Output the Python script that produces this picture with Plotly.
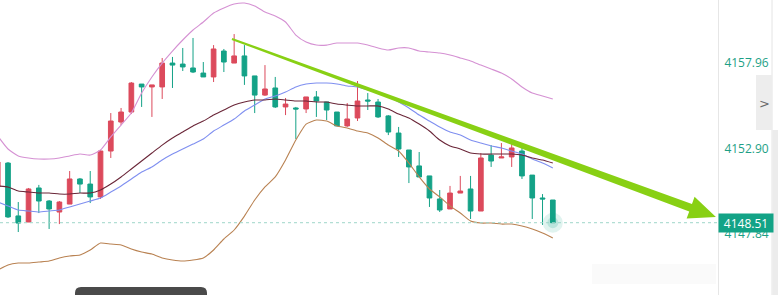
import math
import plotly.graph_objects as go

# ---------------- data ----------------
idx = list(range(55))
open_ = [4150.62, 4152.03, 4148.91, 4148.55, 4150.56, 4149.79, 4149.14, 4149.61, 4151.09, 4150.79,
         4150.03, 4152.74, 4154.45, 4155.04, 4156.69, 4156.52, 4156.52, 4157.93, 4157.87, 4157.64,
         4157.34, 4157.11, 4158.64, 4157.93, 4158.35, 4157.17, 4156.04, 4156.46, 4155.34, 4155.28,
         4155.22, 4155.93, 4155.63, 4155.04, 4154.22, 4154.69, 4155.75, 4155.63, 4154.81, 4153.80,
         4152.80, 4151.86, 4151.27, 4149.91, 4149.32, 4150.26, 4150.50, 4149.20, 4152.50, 4152.33,
         4152.39, 4152.74, 4151.32, 4149.97, 4149.85]
high = [4152.21, 4152.09, 4149.73, 4150.56, 4150.74, 4149.85, 4149.79, 4151.56, 4151.15, 4151.56,
        4152.80, 4154.98, 4155.28, 4156.81, 4156.69, 4156.64, 4158.23, 4158.29, 4158.82, 4159.41,
        4157.99, 4158.99, 4158.76, 4159.64, 4158.99, 4157.17, 4157.81, 4157.11, 4155.87, 4155.34,
        4155.93, 4156.28, 4155.63, 4155.04, 4155.57, 4156.87, 4156.16, 4155.81, 4154.86, 4154.16,
        4152.80, 4152.68, 4151.27, 4150.44, 4150.68, 4151.27, 4151.27, 4152.62, 4153.09, 4153.21,
        4153.21, 4153.04, 4151.32, 4150.20, 4149.85]
low = [4150.44, 4148.79, 4147.96, 4148.55, 4149.08, 4148.14, 4148.43, 4149.61, 4150.26, 4149.67,
       4149.91, 4152.33, 4154.27, 4154.92, 4155.34, 4154.75, 4155.81, 4156.46, 4157.46, 4157.34,
       4157.11, 4156.81, 4157.40, 4157.93, 4156.64, 4154.98, 4155.99, 4155.28, 4154.86, 4153.45,
       4154.98, 4154.75, 4154.57, 4154.22, 4154.16, 4154.51, 4155.16, 4154.69, 4153.68, 4152.39,
       4150.85, 4151.21, 4149.44, 4149.14, 4149.32, 4150.26, 4148.73, 4149.20, 4151.80, 4152.33,
       4151.80, 4151.09, 4148.73, 4148.38, 4148.51]
close = [4152.09, 4148.85, 4148.49, 4150.50, 4149.79, 4149.32, 4149.73, 4151.09, 4150.79, 4150.03,
         4152.74, 4154.51, 4155.04, 4156.75, 4156.52, 4156.64, 4157.93, 4157.81, 4157.70, 4157.40,
         4157.11, 4158.76, 4157.99, 4158.35, 4157.17, 4156.04, 4156.40, 4155.34, 4155.51, 4155.22,
         4155.93, 4155.69, 4155.16, 4154.22, 4154.63, 4155.69, 4155.69, 4154.75, 4153.86, 4152.86,
         4151.80, 4151.21, 4149.97, 4149.26, 4150.26, 4150.38, 4149.20, 4152.33, 4152.15, 4152.39,
         4152.92, 4151.27, 4149.97, 4149.91, 4148.51]
boll_upper = [4153.63, 4152.86, 4152.45, 4152.33, 4152.27, 4152.27, 4152.33, 4152.45, 4152.56, 4152.50,
              4152.80, 4153.57, 4154.27, 4154.98, 4156.16, 4157.11, 4157.93, 4158.64, 4159.29, 4159.88,
              4160.35, 4160.88, 4161.18, 4161.41, 4161.47, 4161.30, 4160.94, 4160.71, 4160.35, 4159.58,
              4159.17, 4158.99, 4158.99, 4159.11, 4159.11, 4159.11, 4158.99, 4158.82, 4158.70, 4158.82,
              4158.82, 4158.64, 4158.58, 4158.52, 4158.40, 4158.23, 4158.05, 4157.81, 4157.58, 4157.34,
              4156.99, 4156.52, 4156.16, 4155.99, 4155.81]
boll_mid = [4149.73, 4149.50, 4149.26, 4149.20, 4149.14, 4149.20, 4149.26, 4149.44, 4149.61, 4149.79,
            4149.97, 4150.32, 4150.68, 4151.09, 4151.50, 4151.80, 4152.21, 4152.56, 4152.86, 4153.15,
            4153.45, 4153.92, 4154.27, 4154.63, 4155.10, 4155.45, 4155.81, 4155.99, 4156.22, 4156.52,
            4156.69, 4156.75, 4156.75, 4156.69, 4156.58, 4156.52, 4156.34, 4156.16, 4155.93, 4155.63,
            4155.28, 4154.86, 4154.51, 4154.16, 4153.86, 4153.68, 4153.39, 4153.21, 4153.04, 4152.92,
            4152.74, 4152.56, 4152.27, 4152.03, 4151.74]
ma_line = [4150.68, 4150.62, 4150.38, 4150.32, 4150.26, 4150.26, 4150.20, 4150.20, 4150.26, 4150.26,
           4150.44, 4150.79, 4151.21, 4151.68, 4152.15, 4152.62, 4153.09, 4153.51, 4153.86, 4154.22,
           4154.51, 4154.86, 4155.16, 4155.45, 4155.63, 4155.75, 4155.75, 4155.81, 4155.75, 4155.69,
           4155.69, 4155.63, 4155.63, 4155.51, 4155.45, 4155.40, 4155.40, 4155.40, 4155.22, 4154.92,
           4154.69, 4154.33, 4153.92, 4153.39, 4153.04, 4152.86, 4152.62, 4152.56, 4152.56, 4152.56,
           4152.56, 4152.50, 4152.33, 4152.21, 4152.03]
boll_lower = [4145.72, 4146.02, 4146.13, 4146.13, 4146.19, 4146.25, 4146.43, 4146.55, 4146.61, 4146.90,
              4147.31, 4147.25, 4147.20, 4146.96, 4146.78, 4146.66, 4146.43, 4146.31, 4146.25, 4146.31,
              4146.43, 4146.90, 4147.55, 4148.08, 4148.90, 4149.85, 4150.62, 4151.21, 4152.21, 4153.39,
              4154.33, 4154.57, 4154.51, 4154.22, 4154.10, 4153.92, 4153.80, 4153.51, 4153.09, 4152.74,
              4152.03, 4151.21, 4150.50, 4150.03, 4149.50, 4149.08, 4148.61, 4148.49, 4148.49, 4148.43,
              4148.43, 4148.32, 4148.14, 4147.90, 4147.61]
tick_vals = [4157.96, 4152.90, 4147.84]
tick_text = ["4157.96", "4152.90", "4147.84"]
last_price = 4148.51
trend_start = (22.79, 4159.35)   # drawn trend arrow (candle index, price)
trend_end = (69.87, 4148.85)

# ---------------- layout geometry ----------------
W, H = 778, 295
PW = 718
X_RANGE = [0.222, 70.07]
Y_RANGE = [4144.245, 4161.65]

UP = "#dc4a5c"
DOWN = "#14a287"
TEAL = "#13a386"


def to_px(x, y):
    return ((x - X_RANGE[0]) / (X_RANGE[1] - X_RANGE[0]) * PW,
            (Y_RANGE[1] - y) / (Y_RANGE[1] - Y_RANGE[0]) * H)


def to_data(px, py):
    return (X_RANGE[0] + px / PW * (X_RANGE[1] - X_RANGE[0]),
            Y_RANGE[1] - py / H * (Y_RANGE[1] - Y_RANGE[0]))


fig = go.Figure()

# Bollinger / MA lines
for ys, col in [(boll_upper, "#d591d3"), (boll_lower, "#b98252"),
                (boll_mid, "#7f8ff0"), (ma_line, "#6a2638")]:
    fig.add_trace(go.Scatter(x=idx, y=ys, mode="lines",
                             line=dict(color=col, width=1.1, shape="spline", smoothing=0.5),
                             hoverinfo="skip", showlegend=False))

# glow on last candle
fig.add_trace(go.Scatter(x=[idx[-1]], y=[last_price], mode="markers",
                         marker=dict(size=20, color="rgba(19,163,134,0.13)"),
                         hoverinfo="skip", showlegend=False))
fig.add_trace(go.Scatter(x=[idx[-1]], y=[last_price], mode="markers",
                         marker=dict(size=11, color="rgba(19,163,134,0.18)"),
                         hoverinfo="skip", showlegend=False))

fig.add_trace(go.Candlestick(
    x=idx, open=open_, high=high, low=low, close=close,
    increasing=dict(line=dict(color=UP, width=1), fillcolor=UP),
    decreasing=dict(line=dict(color=DOWN, width=1), fillcolor=DOWN),
    whiskerwidth=0, showlegend=False, hoverinfo="skip"))

shapes = []
# dotted last price line
shapes.append(dict(type="line", xref="paper", yref="y", x0=0, x1=PW / W,
                   y0=last_price, y1=last_price,
                   line=dict(color="#9fd6ca", width=1, dash="3px,3px")))

# trend arrow polygon
sx, sy = to_px(*trend_start)
tx, ty = to_px(*trend_end)
L = math.hypot(tx - sx, ty - sy)
ux, uy = (tx - sx) / L, (ty - sy) / L
nx, ny = -uy, ux
head_len, head_half, w0, w1 = 27, 11.5, 1.0, 4.0
bx, by = tx - ux * head_len, ty - uy * head_len
pts_px = [(sx + nx * w0, sy + ny * w0), (bx + nx * w1, by + ny * w1),
          (bx + nx * head_half, by + ny * head_half), (tx, ty),
          (bx - nx * head_half, by - ny * head_half), (bx - nx * w1, by - ny * w1),
          (sx - nx * w0, sy - ny * w0)]
pts = [to_data(px, py) for px, py in pts_px]
path = "M " + " L ".join(f"{x:.4f},{y:.4f}" for x, y in pts) + " Z"
shapes.append(dict(type="path", xref="x", yref="y", path=path,
                   fillcolor="#88d014", line=dict(width=0), layer="above"))

# right side panel decorations
shapes.append(dict(type="line", xref="paper", yref="paper", x0=772 / W, x1=772 / W,
                   y0=0, y1=1, line=dict(color="#e4e4e4", width=1)))
shapes.append(dict(type="rect", xref="paper", yref="paper", x0=772.5 / W, x1=1,
                   y0=0, y1=1 - 130 / H, fillcolor="#ececec", line=dict(width=0)))
shapes.append(dict(type="rect", xref="paper", yref="paper", x0=756 / W, x1=772 / W,
                   y0=1 - 130 / H, y1=1 - 75 / H, fillcolor="#ededed", line=dict(width=0)))
# faint watermark
shapes.append(dict(type="rect", xref="paper", yref="paper", x0=592 / W, x1=716 / W,
                   y0=1 - 284 / H, y1=1 - 264 / H, fillcolor="rgba(0,0,0,0.02)",
                   line=dict(width=0)))
# dark tab at bottom
r = 6
x0p, x1p, y0p = 75, 207, 287
def P(px, py):
    return f"{px / W:.5f},{1 - py / H:.5f}"
tab = (f"M {P(x0p, 300)} L {P(x0p, y0p + r)} Q {P(x0p, y0p)} {P(x0p + r, y0p)} "
       f"L {P(x1p - r, y0p)} Q {P(x1p, y0p)} {P(x1p, y0p + r)} L {P(x1p, 300)} Z")
shapes.append(dict(type="path", xref="paper", yref="paper", path=tab,
                   fillcolor="#4a4a4a", line=dict(width=0)))

annotations = [
    dict(xref="paper", yref="y", x=PW / W, y=last_price, xanchor="left", yanchor="middle",
         text="4148.51", showarrow=False, bgcolor=TEAL, width=50, height=14, borderpad=2,
         font=dict(color="white", size=12, family="Open Sans")),
    dict(xref="paper", yref="paper", x=764 / W, y=1 - 103 / H, text="&gt;", showarrow=False,
         font=dict(color="#6a6a6a", size=13, family="DejaVu Sans"), xanchor="center",
         yanchor="middle"),
]

fig.update_layout(
    width=W, height=H, margin=dict(l=0, r=0, t=0, b=0),
    paper_bgcolor="white", plot_bgcolor="white",
    showlegend=False, boxgap=0.35,
    shapes=shapes, annotations=annotations,
    xaxis=dict(range=X_RANGE, domain=[0, PW / W], visible=False,
               rangeslider=dict(visible=False), fixedrange=True),
    yaxis=dict(range=Y_RANGE, side="right", tickvals=tick_vals, ticktext=tick_text,
               showgrid=False, zeroline=False, showline=True, linecolor="#e6e6e6",
               linewidth=1, ticks="outside", ticklen=3, tickcolor="rgba(0,0,0,0)",
               tickfont=dict(color="#1e9f86", size=12, family="Open Sans"), fixedrange=True),
)

fig.write_html("out.html")
